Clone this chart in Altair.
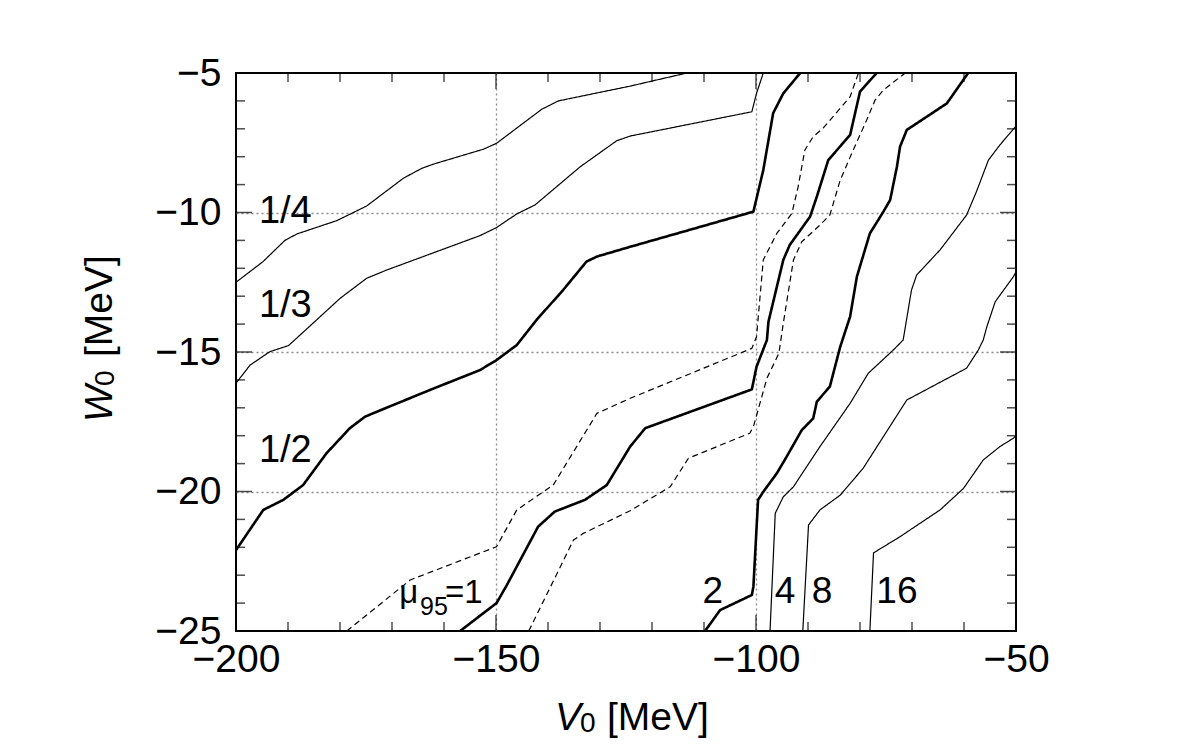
import altair as alt
import pandas as pd

# ---------------- data ----------------
c14_v = [-200.0, -194.8, -190.6, -188.3, -180.6, -174.9, -167.8, -164.3, -162.1, -152.4, -149.9, -141.2, -138.0, -124.2, -113.3]
c14_w = [-12.50, -11.76, -11.00, -10.77, -10.29, -9.77, -8.77, -8.42, -8.27, -7.73, -7.52, -6.30, -6.00, -5.47, -5.00]

c13_v = [-200.0, -197.3, -193.5, -189.9, -184.5, -180.0, -174.9, -171.0, -164.0, -153.1, -149.9, -146.0, -142.5, -133.8, -126.8, -124.2, -100.8, -99.9, -98.6]
c13_w = [-16.12, -15.47, -14.99, -14.77, -13.85, -13.08, -12.36, -12.06, -11.58, -10.83, -10.54, -10.05, -9.73, -8.36, -7.43, -7.26, -6.39, -5.73, -5.0]

c12_v = [-200.0, -194.75, -190.9, -187.1, -182.6, -178.1, -175.2, -172.9, -162.7, -153.1, -149.9, -146.0, -142.2, -137.1, -132.6, -130.6, -124.2, -105.0, -100.5, -98.6, -96.7, -94.75, -91.5]
c12_w = [-22.10, -20.66, -20.30, -19.77, -18.63, -17.73, -17.32, -17.14, -16.36, -15.65, -15.29, -14.75, -13.85, -12.78, -11.76, -11.58, -11.23, -10.21, -9.97, -8.48, -6.44, -5.73, -5.0]

mu1_v = [-156.9, -149.9, -147.9, -141.9, -138.7, -132.9, -128.7, -124.2, -121.3, -100.8, -99.9, -97.9, -97.6, -94.75, -93.5, -89.6, -88.3, -86.1, -81.9, -80.0, -76.8]
mu1_w = [-25.0, -24.0, -23.35, -21.26, -20.72, -20.30, -19.77, -18.39, -17.73, -16.34, -15.53, -14.57, -13.91, -11.70, -11.16, -10.15, -9.43, -8.12, -7.22, -5.67, -5.0]

muup_v = [-178.7, -166.5, -149.9, -146.0, -139.0, -130.6, -124.2, -100.8, -99.9, -98.6, -96.0, -93.1, -91.9, -90.6, -89.0, -87.1, -81.9, -80.3]
muup_w = [-25.0, -23.17, -21.98, -20.66, -19.77, -17.20, -16.66, -14.87, -14.45, -11.70, -10.75, -10.03, -9.08, -7.76, -7.28, -6.98, -5.85, -5.0]

mudn_v = [-143.7, -135.1, -133.2, -124.2, -116.5, -113.0, -101.2, -100.5, -97.9, -95.6, -94.75, -92.8, -91.2, -87.7, -85.8, -83.8, -81.3, -78.7, -77.1, -75.5, -71.3]
mudn_w = [-25.0, -21.74, -21.50, -20.69, -19.83, -18.81, -17.91, -17.68, -15.94, -15.05, -13.97, -11.70, -11.05, -10.45, -10.09, -8.84, -7.76, -6.68, -5.97, -5.61, -5.0]

c2_v = [-109.8, -106.9, -100.8, -100.5, -99.6, -98.6, -96.0, -94.1, -91.2, -89.0, -88.3, -85.8, -83.8, -81.9, -80.6, -78.1, -75.5, -74.2, -72.9, -72.3, -71.0, -63.3, -59.2]
c2_w = [-25.0, -24.25, -23.71, -23.41, -20.30, -20.01, -19.35, -18.75, -17.80, -17.38, -16.78, -16.24, -14.81, -13.73, -12.30, -10.75, -9.97, -9.55, -8.36, -7.64, -7.04, -6.09, -5.0]

c4_v = [-97.3, -96.3, -94.75, -92.8, -87.7, -81.9, -78.4, -73.6, -71.7, -70.1, -69.1, -64.6, -59.5, -57.6, -55.3, -53.1, -50.0]
c4_w = [-25.0, -20.78, -20.19, -19.83, -18.39, -16.84, -15.76, -14.93, -14.57, -12.78, -12.24, -11.34, -10.09, -9.25, -8.12, -7.58, -6.9]

c8_v = [-91.0, -89.9, -87.7, -83.8, -79.4, -71.0, -59.5, -57.25, -56.3, -55.6, -54.0, -50.5, -50.0]
c8_w = [-25.0, -21.2, -20.66, -20.13, -19.17, -16.72, -15.58, -14.93, -14.57, -14.09, -13.2, -12.3, -12.13]

c16_v = [-78.1, -77.4, -72.3, -64.6, -60.1, -56.3, -53.1, -50.5, -50.0]
c16_w = [-25.0, -22.2, -21.62, -20.66, -19.89, -18.87, -18.39, -18.09, -18.0]

curve_names = ["1/4", "1/3", "1/2", "mu1", "mu_up", "mu_dn", "2", "4", "8", "16"]
curve_v = [c14_v, c13_v, c12_v, mu1_v, muup_v, mudn_v, c2_v, c4_v, c8_v, c16_v]
curve_w = [c14_w, c13_w, c12_w, mu1_w, muup_w, mudn_w, c2_w, c4_w, c8_w, c16_w]
curve_weight = ["thin", "thin", "thick", "thick", "thin", "thin", "thick", "thin", "thin", "thin"]
curve_dash = ["solid", "solid", "solid", "solid", "dashed", "dashed", "solid", "solid", "solid", "solid"]

# contour labels
lab_left_text = ["1/4", "1/3", "1/2"]
lab_left_v = [-195.6, -195.6, -195.6]
lab_left_w = [-10.39, -13.75, -18.94]

lab_mid_text = ["2", "4", "8", "16"]
lab_mid_v = [-108.3, -94.4, -87.3, -72.9]
lab_mid_w = [-24.0, -24.0, -24.0, -24.0]

mu_text = ["\u03bc", "=1"]
mu_v = [-168.6, -159.8]
mu_w = [-24.0, -24.0]
mu_sub_text = ["95"]
mu_sub_v = [-164.6]
mu_sub_w = [-24.42]

x_major = [-200, -150, -100, -50]
x_minor = list(range(-200, -49, 10))
y_major = [-25, -20, -15, -10, -5]
y_minor = list(range(-25, -4, 1))

# ---------------- build tables ----------------
rows = []
for name, vs, ws, wt, ds in zip(curve_names, curve_v, curve_w, curve_weight, curve_dash):
    for i, (v, w) in enumerate(zip(vs, ws)):
        rows.append({"curve": name, "V": v, "W": w, "order": i, "weight": wt, "dash": ds})
df = pd.DataFrame(rows)

W_PX, H_PX = 780, 558
FONT = "Liberation Sans"
MAJ, MIN = 32, 18   # tick mark lengths (half is clipped away -> inward ticks)

xt = pd.DataFrame({"V": x_minor, "len": [MAJ if v in x_major else MIN for v in x_minor]})
yt = pd.DataFrame({"W": y_minor, "len": [MAJ if v in y_major else MIN for v in y_minor]})

xs = alt.Scale(domain=[-200, -50], nice=False, zero=False)
ys = alt.Scale(domain=[-25, -5], nice=False, zero=False)

grid_x_op = {"condition": {"test": "datum.value === -200 || datum.value === -50", "value": 0}, "value": 1}
grid_y_op = {"condition": {"test": "datum.value === -25 || datum.value === -5", "value": 0}, "value": 1}

ax_x_main = alt.Axis(values=x_major, format="d", ticks=False, domain=False, grid=True,
                     gridColor="#8a8a8a", gridDash=[2, 3], gridWidth=1.3, gridOpacity=grid_x_op,
                     labelFontSize=39, labelFont=FONT, labelColor="black",
                     labelPadding=9, labelFlush=False, labelOverlap=False, title="")
ax_y_main = alt.Axis(values=y_major, format="d", ticks=False, domain=False, grid=True,
                     gridColor="#8a8a8a", gridDash=[2, 3], gridWidth=1.3, gridOpacity=grid_y_op,
                     labelFontSize=39, labelFont=FONT, labelColor="black",
                     labelPadding=15, labelFlush=False, labelOverlap=False, title="")

X = lambda f: alt.X(f, scale=xs, axis=ax_x_main)
Y = lambda f: alt.Y(f, scale=ys, axis=ax_y_main)

lines = alt.Chart(df).mark_line(clip=True, strokeJoin="round").encode(
    x=X("V:Q"),
    y=Y("W:Q"),
    detail="curve:N",
    order="order:Q",
    strokeWidth=alt.StrokeWidth("weight:N", scale=alt.Scale(domain=["thick", "thin"], range=[2.6, 1.2]), legend=None),
    strokeDash=alt.StrokeDash("dash:N", scale=alt.Scale(domain=["solid", "dashed"], range=[[1, 0], [6, 4]]), legend=None),
    color=alt.value("black"),
)

# inward tick marks along the frame (ticks centred on the edge, clipped to the plot)
xtick_layers = [
    alt.Chart(xt).mark_tick(clip=True, orient="vertical", thickness=1.5, color="black").encode(
        x=X("V:Q"), y=alt.value(yv), size=alt.Size("len:Q", scale=None))
    for yv in (0, H_PX)
]
ytick_layers = [
    alt.Chart(yt).mark_tick(clip=True, orient="horizontal", thickness=1.5, color="black").encode(
        y=Y("W:Q"), x=alt.value(xv), size=alt.Size("len:Q", scale=None))
    for xv in (0, W_PX)
]


def data_text(texts, vs, ws, size, align):
    return alt.Chart(pd.DataFrame({"t": texts, "V": vs, "W": ws})).mark_text(
        align=align, baseline="alphabetic", font=FONT, fontSize=size, color="black"
    ).encode(x=X("V:Q"), y=Y("W:Q"), text="t:N")


lab_left = data_text(lab_left_text, lab_left_v, lab_left_w, 38, "left")
lab_mid = data_text(lab_mid_text, lab_mid_v, lab_mid_w, 37, "center")
lab_mu = data_text(mu_text, mu_v, mu_w, 33, "left")
lab_mu_sub = data_text(mu_sub_text, mu_sub_v, mu_sub_w, 25, "left")

# axis titles as text marks (italic symbol + subscript + unit)
one = pd.DataFrame({"k": [0]})


def txt(s, x, y, size, style="normal", angle=0):
    kw = dict(align="left", baseline="alphabetic", font=FONT, fontSize=size,
              fontStyle=style, color="black")
    if angle:
        kw["angle"] = angle
    return alt.Chart(one).mark_text(text=s, **kw).encode(x=alt.value(x), y=alt.value(y))


titles = [
    txt("V", 319, 657, 39, "italic"),
    txt("0", 344, 659, 28),
    txt("[MeV]", 371, 657, 39),
    txt("W", -124, 349, 39, "italic", 270),
    txt("0", -122, 313, 28, "normal", 270),
    txt("[MeV]", -124, 284, 39, "normal", 270),
]

chart = alt.layer(lines, *xtick_layers, *ytick_layers, lab_left, lab_mid, lab_mu, lab_mu_sub, *titles).properties(
    width=W_PX, height=H_PX,
    autosize=alt.AutoSizeParams(type="none"),
    padding={"left": 236, "top": 73, "right": 166, "bottom": 117},
    background="white",
).configure_view(stroke="black", strokeWidth=2)

chart.save("out.html", embed_options={"renderer": "svg", "actions": False})
